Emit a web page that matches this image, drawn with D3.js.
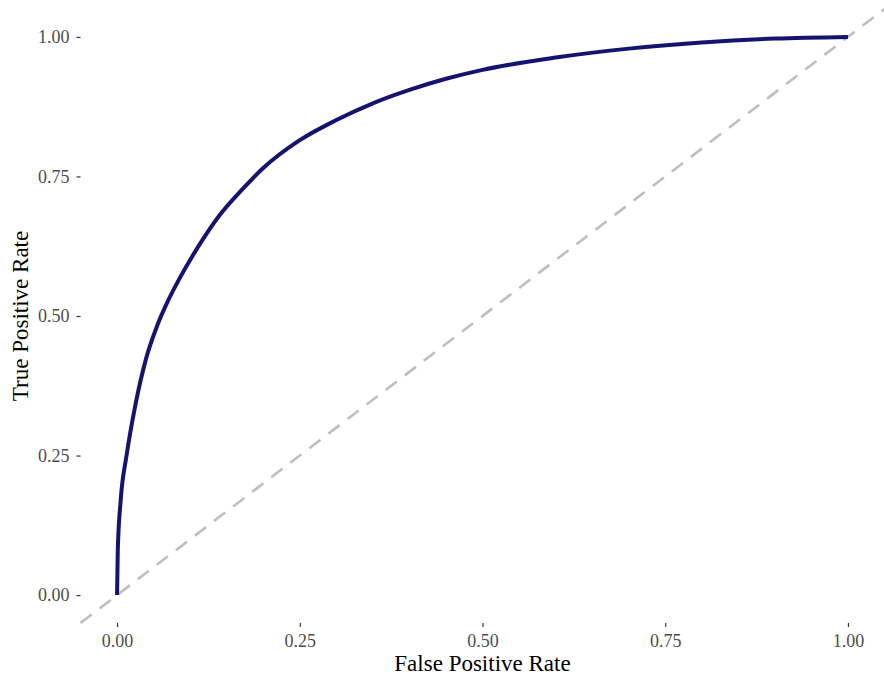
<!DOCTYPE html>
<html>
<head>
<meta charset="utf-8">
<script src="https://cdn.jsdelivr.net/npm/d3@7"></script>
<style>
  body { margin: 0; background: #fff; }
  .title { font-family: "Liberation Serif", "Times New Roman", serif; font-size: 23px; fill: #000; }
</style>
</head>
<body>
<svg id="chart" width="884" height="679"></svg>
<script>
// ROC curve points
const fpr = [0, 0.001, 0.005, 0.013, 0.025, 0.04, 0.055, 0.07, 0.085, 0.11, 0.14, 0.17, 0.2, 0.25, 0.3, 0.35, 0.4, 0.45, 0.5, 0.6, 0.7, 0.8, 0.9, 1.0];
const tpr = [0, 0.08, 0.17, 0.25, 0.34, 0.425, 0.483, 0.528, 0.566, 0.622, 0.68, 0.725, 0.765, 0.815, 0.851, 0.881, 0.905, 0.925, 0.941, 0.963, 0.979, 0.99, 0.997, 1.0];
const ticks = [0, 0.25, 0.5, 0.75, 1];

const svg = d3.select('#chart');
// panel incl. 5% expansion
const panel = { left: 80.5, right: 884.5, top: 9, bottom: 623 };

const x = d3.scaleLinear().domain([-0.05, 1.05]).range([panel.left, panel.right]);
const y = d3.scaleLinear().domain([-0.05, 1.05]).range([panel.bottom, panel.top]);

const pts = fpr.map((d, i) => [d, tpr[i]]);

// diagonal reference line
svg.append('line')
  .attr('x1', x(-0.05)).attr('y1', y(-0.05))
  .attr('x2', x(1.05)).attr('y2', y(1.05))
  .attr('stroke', '#bebebe')
  .attr('stroke-width', 2.6)
  .attr('stroke-dasharray', '14 10');

const line = d3.line()
  .x(d => x(d[0]))
  .y(d => y(d[1]))
  .curve(d3.curveMonotoneX);

svg.append('path')
  .datum(pts)
  .attr('fill', 'none')
  .attr('stroke', '#141470')
  .attr('stroke-width', 4)
  .attr('d', line);

// axes (no axis line, ticks only)
function styleAxis(g) {
  g.select('.domain').remove();
  g.attr('font-family', '"Liberation Serif", "Times New Roman", serif').attr('font-size', 18);
  g.selectAll('.tick line').attr('stroke', '#333').attr('stroke-width', 1.2);
  g.selectAll('.tick text').attr('fill', '#4d4d4d');
}

const xAxis = d3.axisBottom(x).tickValues(ticks).tickFormat(d3.format('.2f')).tickSizeOuter(0).tickSize(4).tickPadding(7);
svg.append('g').attr('transform', `translate(0,${panel.bottom})`).call(xAxis).call(styleAxis);

const yAxis = d3.axisLeft(y).tickValues(ticks).tickFormat(d3.format('.2f')).tickSizeOuter(0).tickSize(4).tickPadding(7);
svg.append('g').attr('transform', `translate(${panel.left},0)`).call(yAxis).call(styleAxis);

svg.append('text').attr('class', 'title')
  .attr('x', (panel.left + panel.right) / 2).attr('y', 671)
  .attr('text-anchor', 'middle')
  .text('False Positive Rate');

svg.append('text').attr('class', 'title')
  .attr('transform', `translate(28,${(panel.top + panel.bottom) / 2}) rotate(-90)`)
  .attr('text-anchor', 'middle')
  .text('True Positive Rate');
</script>
</body>
</html>
